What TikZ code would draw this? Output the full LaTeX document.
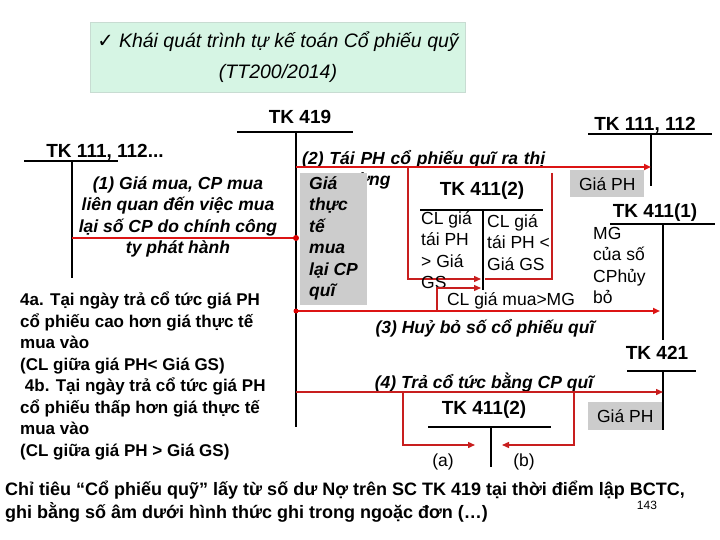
\documentclass[tikz,border=0pt]{standalone}
\usepackage{fontspec}
\setmainfont{Liberation Sans}
\newfontfamily\dejavu{DejaVu Sans}
\usetikzlibrary{arrows.meta}
\begin{document}
\begin{tikzpicture}[x=1pt,y=-1pt,
  acc/.style={line width=2.6pt,black},
  red/.style={line width=2.2pt,draw={rgb,255:red,220;green,20;blue,20}},
  redthin/.style={line width=1.4pt,draw={rgb,255:red,200;green,30;blue,30}},
  arr/.style={-{Triangle[length=7pt,width=6pt]}},
  lbl/.style={inner sep=0pt,font=\fontsize{19}{21}\selectfont\bfseries},
  ital/.style={inner sep=0pt,font=\fontsize{17.5}{21.5}\selectfont\bfseries\itshape},
  plain/.style={inner sep=0pt,font=\fontsize{17.5}{21.5}\selectfont,align=left},
  graybox/.style={fill={rgb,255:red,204;green,204;blue,204},draw=none}]
\useasboundingbox (0,0) rectangle (720,540);
\fill[white] (0,0) rectangle (720,540);
% title
\node[draw={rgb,255:red,200;green,220;blue,210},fill={rgb,255:red,214;green,245;blue,228},minimum width=375pt,minimum height=70pt,anchor=north west] (title) at (90,22) {};
\node[inner sep=0pt,font=\fontsize{19.5}{31}\selectfont\itshape,align=center] (tt) at (278,57) {{\dejavu\upshape ✓} Khái quát trình tự kế toán Cổ phiếu quỹ\\(TT200/2014)};
% accounts
\node[lbl] (t419) at (300,117) {TK 419};
\draw[acc] (237,132) -- (353,132);
\coordinate (v419t) at (296,132); \coordinate (v419b) at (296,427);
\draw[acc] (v419t) -- (v419b);
\node[lbl] (t111) at (105,152) {TK 111, 112...};
\draw[acc] (24,161) -- (118,161);
\coordinate (v111t) at (72,161); \coordinate (v111b) at (72,278);
\draw[acc] (v111t) -- (v111b);
\node[lbl] (t111r) at (645,125) {TK 111, 112};
\draw[acc] (588,134) -- (712,134);
\coordinate (v111rt) at (651,134); \coordinate (v111rb) at (651,186);
\draw[acc] (v111rt) -- (v111rb);
\node[lbl] (t4112) at (482,191) {TK 411(2)};
\draw[acc] (420,210) -- (543,210);
\coordinate (v4112t) at (483,210); \coordinate (v4112b) at (483,290);
\draw[acc] (v4112t) -- (v4112b);
\node[lbl] (t4111) at (655,213) {TK 411(1)};
\draw[acc] (610,224) -- (715,224);
\coordinate (v4111t) at (663,224); \coordinate (v4111b) at (663,340);
\draw[acc] (v4111t) -- (v4111b);
\node[lbl] (t421) at (657,353) {TK 421};
\draw[acc] (627,371) -- (696,371);
\coordinate (v421t) at (663,371); \coordinate (v421b) at (663,430);
\draw[acc] (v421t) -- (v421b);
\node[lbl] (t4112b) at (484,410) {TK 411(2)};
\draw[acc] (428,427) -- (551,427);
\coordinate (v4112bt) at (491,427); \coordinate (v4112bb) at (491,467);
\draw[acc] (v4112bt) -- (v4112bb);
% (1)
\node[ital,align=center] (n1) at (178,217) {(1) Giá mua, CP mua\\liên quan đến việc mua\\lại số CP do chính công\\ty phát hành};
\coordinate (p1s) at (72,238); \coordinate (p1e) at (296,238);
\draw[red] (p1s) -- (p1e);
\fill[red!85!black] (p1e) circle (3pt);
% (2)
\node[ital,text width=300pt,align=left,anchor=north west] (n2) at (300,150) {\hspace*{2pt}(2) Tái PH cổ phiếu quĩ ra thị\\\hspace*{32pt}trường};
\node[graybox,minimum width=67pt,minimum height=132pt,anchor=north west] (gbox) at (300,173) {};
\node[ital,align=left,anchor=north west] (gtxt) at (309,176) {Giá\\thực\\tế\\mua\\lại CP\\quĩ};
\coordinate (p2s) at (296,167); \coordinate (p2e) at (651,167);
\draw[red,arr] (p2s) -- (p2e);
\node[graybox,minimum width=74pt,minimum height=27pt,anchor=north west,font=\fontsize{17.5}{19}\selectfont] (gph) at (570,170) {Giá PH};
\coordinate (b1) at (408,167); \coordinate (b2) at (552,173);
\coordinate (m1) at (481,279); \coordinate (m2) at (485,279);
\draw[redthin,arr] (b1) |- (m1);
\draw[redthin] (b2) |- (m2);
\node[plain,anchor=north west] (c1) at (421,211) {CL giá\\tái PH\\> Giá\\GS};
\node[plain,anchor=north west] (c2) at (487,214) {CL giá\\tái PH <\\Giá GS};
% (3)
\coordinate (p3s) at (296,311); \coordinate (p3e) at (660,311);
\draw[red,arr] (p3s) -- (p3e);
\fill[red!85!black] (p3s) circle (2.5pt);
\coordinate (b3) at (437,311); \coordinate (m3) at (481,288);
\draw[redthin,arr] (b3) |- (m3);
\node[plain] (clm) at (511,301) {CL giá mua>MG};
\node[ital] (n3) at (485,328) {(3) Huỷ bỏ số cổ phiếu quĩ};
\node[plain,anchor=north west] (mg) at (593,227) {MG\\của số\\CPhủy\\bỏ};
% (4)
\node[ital] (n4) at (484,383) {(4) Trả cổ tức bằng CP quĩ};
\coordinate (p4s) at (296,392); \coordinate (p4e) at (663,392);
\draw[redthin,arr] (p4s) -- (p4e);
\coordinate (b4) at (403,392); \coordinate (b5) at (574,392);
\coordinate (m4) at (475,445); \coordinate (m5) at (502,445);
\draw[redthin,arr] (b4) |- (m4);
\draw[redthin,arr] (b5) |- (m5);
\node[graybox,minimum width=74pt,minimum height=28pt,anchor=north west,font=\fontsize{17.5}{19}\selectfont] (gph2) at (588,402) {Giá PH};
\node[plain] (na) at (443,462) {(a)};
\node[plain] (nb) at (524,462) {(b)};
% left text
\node[inner sep=0pt,font=\fontsize{17}{21.5}\selectfont\bfseries,align=left,anchor=north west] (lt) at (20,292) {4a. Tại ngày trả cổ tức giá PH\\cổ phiếu cao hơn giá thực tế\\mua vào\\(CL giữa giá PH< Giá GS)\\\ 4b. Tại ngày trả cổ tức giá PH\\cổ phiếu thấp hơn giá thực tế\\mua vào\\(CL giữa giá PH > Giá GS)};
% bottom
\node[inner sep=0pt,font=\fontsize{18}{23}\selectfont\bfseries,align=left,anchor=north west] (bt) at (5,481) {Chỉ tiêu “Cổ phiếu quỹ” lấy từ số dư Nợ trên SC TK 419 tại thời điểm lập BCTC,\\ghi bằng số âm dưới hình thức ghi trong ngoặc đơn (…)};
\node[inner sep=0pt,font=\fontsize{12}{13}\selectfont] (pg) at (647,505) {143};
\end{tikzpicture}
\end{document}
